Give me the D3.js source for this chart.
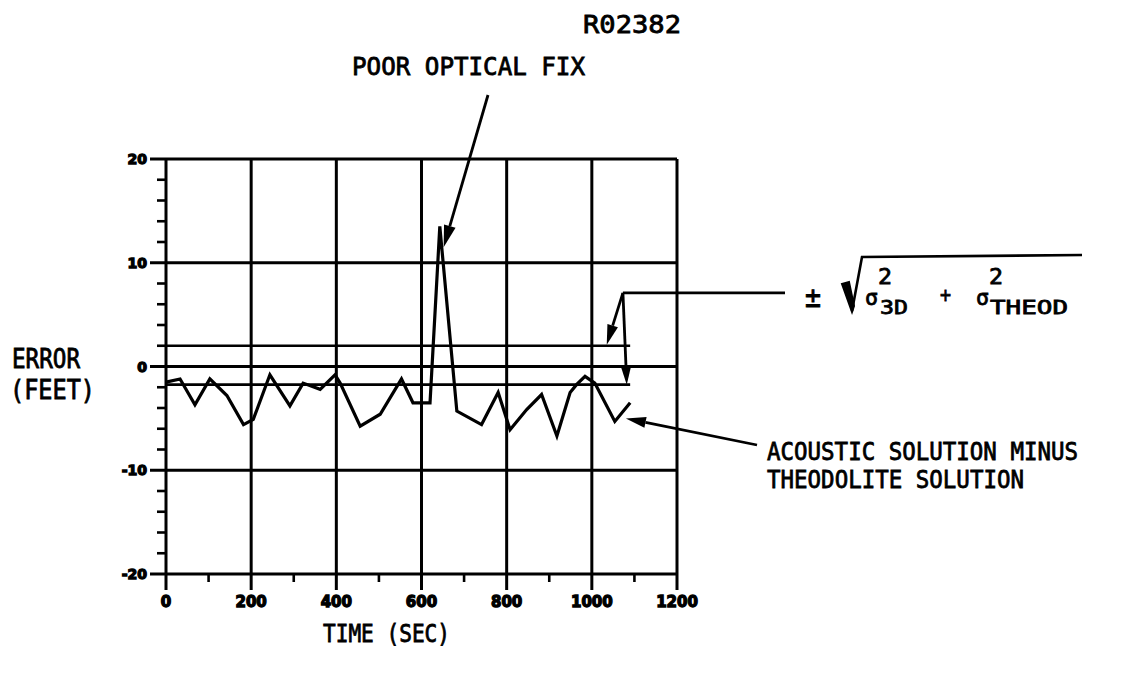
<!DOCTYPE html>
<html>
<head>
<meta charset="utf-8">
<script src="https://cdn.jsdelivr.net/npm/d3@7"></script>
<style>
  html, body { margin: 0; padding: 0; background: #fff; }
  svg { display: block; }
  .lbl { font-family: "DejaVu Sans Mono", monospace; fill: #000; stroke: #000; stroke-width: 0.8px; }
  .tick { font-family: "DejaVu Sans", sans-serif; font-weight: bold; fill: #000; stroke: #000; stroke-width: 1.3px; }
</style>
</head>
<body>
<script>
// Acoustic minus theodolite position error over time
const timeSec = [0, 33, 68, 103, 143, 182, 205, 244, 291, 322, 362, 397, 409, 456, 503, 553, 580, 620, 643, 683, 741, 780, 808, 847, 882, 918, 949, 964, 984, 1007, 1054, 1090];
const errorFt = [-1.5, -1.2, -3.7, -1.2, -2.8, -5.6, -5.1, -0.8, -3.8, -1.6, -2.2, -0.8, -1.6, -5.75, -4.6, -1.2, -3.5, -3.5, 13.5, -4.3, -5.6, -2.5, -6.1, -4.15, -2.7, -6.7, -2.5, -1.75, -0.95, -1.6, -5.3, -3.5];

// Error-bound lines (± combined sigma) and their extent in time
const boundValues = [2.0, -1.75];
const boundEnd = 1090;

// Axis ticks
const xTicks = [0, 200, 400, 600, 800, 1000, 1200];
const xMinor = [100, 300, 500, 700, 900, 1100];
const xTickLabels = ["0", "200", "400", "600", "800", "1000", "1200"];
const yTicks = [20, 10, 0, -10, -20];
const yMinor = [18, 16, 14, 12, 8, 6, 4, 2, -2, -4, -6, -8, -12, -14, -16, -18];
const yTickLabels = ["20", "10", "0", "-10", "-20"];

const W = 1121, H = 675;
const svg = d3.select("body").append("svg").attr("width", W).attr("height", H);

const x = d3.scaleLinear().domain([0, 1200]).range([166, 677]);
const y = d3.scaleLinear().domain([-20, 20]).range([574, 159]);

const ink = "#000";
const g = svg.append("g");

// grid (major lines), extended slightly past the left and bottom edges as ticks
g.selectAll("line.hg").data(yTicks).join("line")
  .attr("x1", x(0) - 16).attr("x2", x(1200))
  .attr("y1", d => y(d)).attr("y2", d => y(d))
  .attr("stroke", ink).attr("stroke-width", 3);
g.selectAll("line.vg").data(xTicks).join("line")
  .attr("x1", d => x(d)).attr("x2", d => x(d))
  .attr("y1", y(20)).attr("y2", y(-20) + 16)
  .attr("stroke", ink).attr("stroke-width", 3);

// minor ticks
g.selectAll("line.ym").data(yMinor).join("line")
  .attr("x1", x(0) - 9).attr("x2", x(0))
  .attr("y1", d => y(d)).attr("y2", d => y(d))
  .attr("stroke", ink).attr("stroke-width", 2.6);
g.selectAll("line.xm").data(xMinor).join("line")
  .attr("x1", d => x(d)).attr("x2", d => x(d))
  .attr("y1", y(-20)).attr("y2", y(-20) + 8)
  .attr("stroke", ink).attr("stroke-width", 2.6);

// tick labels
g.selectAll("text.yl").data(yTicks).join("text")
  .attr("class", "tick")
  .attr("x", x(0) - 19).attr("y", d => y(d) + 5)
  .attr("text-anchor", "end").attr("font-size", 14)
  .text((d, i) => yTickLabels[i]);
g.selectAll("text.xl").data(xTicks).join("text")
  .attr("class", "tick")
  .attr("x", d => x(d)).attr("y", y(-20) + 33)
  .attr("text-anchor", "middle").attr("font-size", 15)
  .text((d, i) => xTickLabels[i]);

// bound lines
g.selectAll("line.bd").data(boundValues).join("line")
  .attr("x1", x(0)).attr("x2", x(boundEnd))
  .attr("y1", d => y(d)).attr("y2", d => y(d))
  .attr("stroke", ink).attr("stroke-width", 2.6);

// error trace
const line = d3.line().x(d => x(d[0])).y(d => y(d[1]));
g.append("path")
  .datum(timeSec.map((t, i) => [t, errorFt[i]]))
  .attr("d", line)
  .attr("fill", "none").attr("stroke", ink)
  .attr("stroke-width", 3.2).attr("stroke-linejoin", "miter");

// arrow helper: shaft plus narrow filled head
function arrow(x1, y1, x2, y2, len = 20, half = 5.5) {
  const a = Math.atan2(y2 - y1, x2 - x1);
  const bx = x2 - len * Math.cos(a), by = y2 - len * Math.sin(a);
  const nx = -Math.sin(a) * half, ny = Math.cos(a) * half;
  g.append("line").attr("x1", x1).attr("y1", y1).attr("x2", bx).attr("y2", by)
    .attr("stroke", ink).attr("stroke-width", 2.8);
  g.append("path")
    .attr("d", `M${x2},${y2}L${bx + nx},${by + ny}L${bx - nx},${by - ny}Z`)
    .attr("fill", ink);
}

// bracket from the sigma formula down to both bound lines
const bx0 = x(1073), by0 = y(7.1);
g.append("line").attr("x1", bx0).attr("y1", by0).attr("x2", 785).attr("y2", by0)
  .attr("stroke", ink).attr("stroke-width", 2.8);
arrow(bx0, by0, x(1082), y(boundValues[1]), 18, 5);
arrow(bx0, by0, x(1035), y(boundValues[0]) - 1, 20, 5.5);

// annotation arrows
arrow(488, 95, x(652), y(11.5), 22, 6);
arrow(757, 445, x(1080), y(-5.0), 20, 5.5);

// text helper: condensed lettering by forcing the advance width
function label(txt, tx, ty, size, width, anchor = "start") {
  const t = g.append("text").attr("class", "lbl")
    .attr("x", tx).attr("y", ty).attr("font-size", size)
    .attr("text-anchor", anchor).text(txt);
  if (width) t.attr("textLength", width).attr("lengthAdjust", "spacingAndGlyphs");
  return t;
}

label("R02382", 583, 33, 25, 98);
label("POOR OPTICAL FIX", 352, 75, 24, 233);
label("ERROR", 12, 368, 26, 68);
label("(FEET)", 10, 399, 26, 85);
label("TIME (SEC)", 323, 642, 25, 127);
label("ACOUSTIC SOLUTION MINUS", 767, 460, 25, 311);
label("THEODOLITE SOLUTION", 767, 488, 25, 257);

// ± sqrt(σ²₃D + σ²THEOD)
label("±", 805, 307, 30, 16);
g.append("path")
  .attr("d", "M842,284 L849,282 L854,306 L852,312 Z")
  .attr("fill", ink).attr("stroke", ink).attr("stroke-width", 2);
g.append("path")
  .attr("d", "M852,311 L862,257 L1082,255")
  .attr("fill", "none").attr("stroke", ink).attr("stroke-width", 2.6);
label("σ", 865, 305, 21, 13);
label("2", 878, 284, 22, 14);
label("3D", 880, 314, 20, 28);
label("+", 940, 302, 22, 11);
label("σ", 976, 305, 21, 13);
label("2", 989, 284, 22, 14);
label("THEOD", 990, 314, 20, 78);
</script>
</body>
</html>
